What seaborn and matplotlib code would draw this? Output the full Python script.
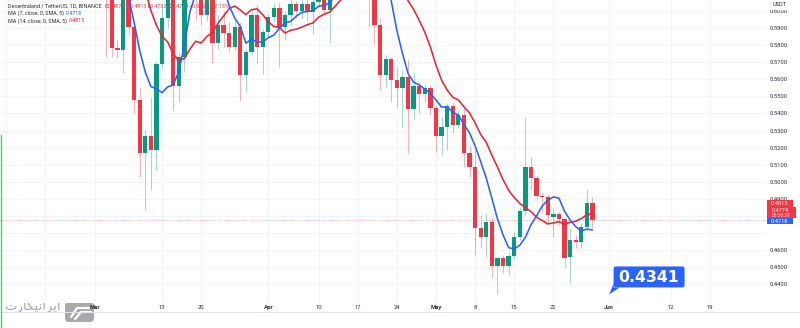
import numpy as np
import pandas as pd
import matplotlib
matplotlib.use("Agg")
import matplotlib.pyplot as plt
import seaborn as sns
from matplotlib.patches import Rectangle, FancyBboxPatch, Polygon
from matplotlib.lines import Line2D
from matplotlib.transforms import IdentityTransform

# ---------------- data: MANA/USDT daily candles ----------------
start_date = "2023-02-13"
end_date = "2023-05-29"
opens = [0.690, 0.700, 0.720, 0.740, 0.760, 0.730, 0.720, 0.700, 0.710, 0.690,
         0.700, 0.690, 0.680, 0.680, 0.690, 0.686, 0.660, 0.6515,
         0.6325, 0.615, 0.5781, 0.5769, 0.612, 0.5908, 0.5479, 0.5167, 0.5268, 0.5186,
         0.5689, 0.5957, 0.614, 0.5561, 0.5729, 0.635, 0.655, 0.641, 0.5976, 0.6435,
         0.581, 0.5918, 0.5869, 0.5791, 0.5908, 0.5625, 0.5758, 0.5976, 0.5791, 0.5878,
         0.5966, 0.6015, 0.5906, 0.5976, 0.604, 0.600, 0.604, 0.5995, 0.605, 0.609,
         0.6005, 0.616, 0.628, 0.640, 0.652, 0.665, 0.675, 0.655, 0.625, 0.5918,
         0.5625, 0.5717, 0.5596, 0.5547, 0.5612, 0.5424, 0.5559, 0.5512, 0.5547, 0.5430,
         0.5268, 0.5319, 0.5444, 0.5332, 0.5391, 0.5167, 0.5088, 0.4728, 0.4675, 0.4767,
         0.4507, 0.4552, 0.4507, 0.4566, 0.4675, 0.4831, 0.5088, 0.5020, 0.4917, 0.4909,
         0.4796, 0.4810, 0.4781, 0.4562, 0.4660, 0.4646, 0.4737, 0.4878]
highs = [0.712, 0.728, 0.752, 0.775, 0.768, 0.742, 0.726, 0.718, 0.714, 0.705,
         0.703, 0.696, 0.688, 0.696, 0.695, 0.690, 0.668, 0.657,
         0.638, 0.619, 0.583, 0.616, 0.618, 0.593, 0.5557, 0.5303, 0.5498, 0.5703,
         0.6035, 0.620, 0.621, 0.5761, 0.642, 0.668, 0.662, 0.647, 0.650, 0.648,
         0.5977, 0.600, 0.5935, 0.5947, 0.5935, 0.578, 0.601, 0.6035, 0.5895, 0.5985,
         0.6045, 0.605, 0.600, 0.609, 0.606, 0.608, 0.607, 0.610, 0.614, 0.612,
         0.622, 0.632, 0.645, 0.658, 0.672, 0.688, 0.680, 0.660, 0.630, 0.595,
         0.5742, 0.5732, 0.5672, 0.5654, 0.5713, 0.5635, 0.5584, 0.5572, 0.5566, 0.5449,
         0.5381, 0.5461, 0.5469, 0.5420, 0.5432, 0.5215, 0.5186, 0.4806, 0.4816, 0.4796,
         0.4562, 0.4572, 0.4591, 0.4708, 0.4854, 0.5381, 0.5143, 0.5040, 0.4942, 0.4929,
         0.4847, 0.4823, 0.4796, 0.4728, 0.4689, 0.4757, 0.4957, 0.4913]
lows = [0.684, 0.694, 0.715, 0.735, 0.722, 0.712, 0.695, 0.697, 0.685, 0.686,
        0.684, 0.673, 0.672, 0.676, 0.680, 0.655, 0.645, 0.627,
        0.573, 0.5732, 0.5725, 0.5639, 0.586, 0.5403, 0.503, 0.4835, 0.4952, 0.5069,
        0.5666, 0.590, 0.542, 0.5469, 0.5644, 0.628, 0.5947, 0.592, 0.594, 0.5695,
        0.578, 0.5791, 0.576, 0.5771, 0.5473, 0.5527, 0.5742, 0.5695, 0.5631, 0.585,
        0.594, 0.5674, 0.583, 0.592, 0.596, 0.595, 0.594, 0.5866, 0.602, 0.598,
        0.5812, 0.610, 0.622, 0.634, 0.645, 0.658, 0.645, 0.5908, 0.5806, 0.5537,
        0.5555, 0.5469, 0.5440, 0.5322, 0.5167, 0.5362, 0.5401, 0.5469, 0.5391, 0.5176,
        0.5157, 0.5186, 0.5286, 0.5315, 0.5088, 0.5030, 0.4572, 0.4611, 0.4562, 0.4435,
        0.4342, 0.4465, 0.4455, 0.4552, 0.4660, 0.4806, 0.4952, 0.4894, 0.4816, 0.4757,
        0.4679, 0.4747, 0.4503, 0.4410, 0.4611, 0.4611, 0.4714, 0.4732]
closes = [0.700, 0.720, 0.740, 0.760, 0.730, 0.720, 0.700, 0.710, 0.690, 0.700,
          0.690, 0.680, 0.680, 0.690, 0.686, 0.660, 0.6515, 0.6325,
          0.615, 0.5781, 0.5769, 0.612, 0.5908, 0.5479, 0.5167, 0.5268, 0.5186, 0.5689,
          0.5957, 0.614, 0.5561, 0.5729, 0.635, 0.655, 0.641, 0.5976, 0.6435, 0.581,
          0.5918, 0.5869, 0.5791, 0.5908, 0.5625, 0.5758, 0.5976, 0.5791, 0.5878, 0.5966,
          0.6015, 0.5906, 0.5976, 0.604, 0.600, 0.604, 0.5995, 0.605, 0.609, 0.6005,
          0.616, 0.628, 0.640, 0.652, 0.665, 0.675, 0.655, 0.625, 0.5918, 0.5625,
          0.5717, 0.5596, 0.5547, 0.5612, 0.5424, 0.5559, 0.5512, 0.5547, 0.5430, 0.5268,
          0.5319, 0.5444, 0.5332, 0.5391, 0.5167, 0.5088, 0.4728, 0.4675, 0.4767, 0.4507,
          0.4552, 0.4507, 0.4566, 0.4675, 0.4831, 0.5088, 0.5020, 0.4917, 0.4909, 0.4806,
          0.4810, 0.4781, 0.4552, 0.4660, 0.4646, 0.4737, 0.4878, 0.4774]

tick_dates = ["2023-02-13", "2023-02-20", "2023-03-01", "2023-03-13", "2023-03-20",
              "2023-04-01", "2023-04-10", "2023-04-17", "2023-04-24", "2023-05-01",
              "2023-05-08", "2023-05-15", "2023-05-22", "2023-06-01", "2023-06-12",
              "2023-06-19"]
tick_labels = ["", "", "Mar", "13", "20", "Apr", "10", "17", "24", "May",
               "8", "15", "22", "Jun", "12", "19"]
month_labels = {"Mar", "Apr", "May", "Jun"}
price_ticks = [0.44, 0.45, 0.46, 0.47, 0.48, 0.49, 0.50, 0.51, 0.52, 0.53,
               0.54, 0.55, 0.56, 0.57, 0.58, 0.59, 0.60]
hidden_price_labels = [0.47, 0.48]

note_date = "2023-06-01"
note_price = 0.4341

symbol = "Decentraland / TetherUS, 1D, BINANCE"
countdown = "05:56:39"

# ---------------- styling ----------------
UP = "#089981"
DOWN = "#F23645"
MA7_COLOR = "#2962FF"
MA14_COLOR = "#F2222F"
TEXT = "#2a2e39"
GRID = "#f0f3fa"

sns.set_theme(style="white")
plt.rcParams["font.family"] = ["Roboto", "DejaVu Sans"]

W, H = 800, 328
fig = plt.figure(figsize=(W / 100, H / 100), dpi=100)
fig.patch.set_facecolor("white")
pane_bottom = 303
ax = fig.add_axes([0, (H - pane_bottom) / H, 766 / W, pane_bottom / H])
ax.set_facecolor("white")

base = pd.Timestamp("2023-03-01")
dates = pd.date_range(start_date, end_date, freq="D")
df = pd.DataFrame({"date": dates, "open": opens, "high": highs,
                   "low": lows, "close": closes})
df["day"] = (df["date"] - base).dt.days
df["ma7"] = df["close"].rolling(7).mean()
df["ma14"] = df["close"].rolling(14).mean()
rising = df["close"] >= df["open"]
colors = np.where(rising, UP, DOWN)

# wicks
ax.vlines(df["day"], df["low"], df["high"], colors=colors, lw=0.75,
          alpha=0.38, zorder=2)
# bodies
body_lo = df[["open", "close"]].min(axis=1)
body_h = (df["open"] - df["close"]).abs().clip(lower=0.0007)
ax.bar(df["day"], body_h, bottom=body_lo, width=0.77, color=colors,
       linewidth=0, zorder=3)

# moving averages
sns.lineplot(data=df, x="day", y="ma14", ax=ax, color=MA14_COLOR, lw=1.15,
             zorder=5)
sns.lineplot(data=df, x="day", y="ma7", ax=ax, color=MA7_COLOR, lw=1.15,
             zorder=5)

last_close = closes[-1]
ax.axhline(last_close, color=DOWN, lw=0.6, ls=(0, (1, 1.6)), alpha=0.55,
           zorder=1.5)

ax.set_xlim(-16.995, 120.04)
ax.set_ylim(0.42909, 0.60638)
for s in ax.spines.values():
    s.set_visible(False)

tick_days = [(pd.Timestamp(t) - base).days for t in tick_dates]
ax.set_xticks(tick_days)
ax.set_xticklabels(tick_labels)
for lab in ax.get_xticklabels():
    if lab.get_text() in month_labels:
        lab.set_fontweight("bold")
ax.set_yticks(price_ticks)
ax.set_yticklabels(["" if any(abs(p - q) < 1e-9 for q in hidden_price_labels)
                    else f"{p:.4f}" for p in price_ticks])
ax.yaxis.tick_right()
ax.tick_params(axis="x", length=0, pad=1.2, labelsize=4.2, labelcolor=TEXT)
ax.tick_params(axis="y", length=0, pad=2.9, labelsize=4.2, labelcolor=TEXT)
ax.grid(True, color=GRID, lw=0.6)
ax.set_axisbelow(True)
ax.set_xlabel("")
ax.set_ylabel("")

# ---------------- legend rows (top-left) ----------------
renderer = fig.canvas.get_renderer()


def text_row(y_px, pieces, x_px=8.3, size=3.9):
    x = x_px
    for s, c in pieces:
        t = ax.text(x / W, 1 - y_px / H, s, color=c, fontsize=size,
                    ha="left", va="center", transform=fig.transFigure,
                    zorder=1)
        x += t.get_window_extent(renderer=renderer).width


o, h, l, c = opens[-1], highs[-1], lows[-1], closes[-1]
chg = c - o
pct = chg / o * 100
text_row(6.2, [(symbol + "  ", TEXT), ("O", TEXT), (f"{o:.4f} ", DOWN),
               ("H", TEXT), (f"{h:.4f} ", DOWN), ("L", TEXT),
               (f"{l:.4f} ", DOWN), ("C", TEXT), (f"{c:.4f} ", DOWN),
               (f"\u2212{abs(chg):.4f} (\u2212{abs(pct):.2f}%)", DOWN)])
ma7_last = df["ma7"].iloc[-1]
ma14_last = df["ma14"].iloc[-1]
text_row(13.6, [("MA (7, close, 0, SMA, 5) ", TEXT), (f"{ma7_last:.4f}", MA7_COLOR)])
text_row(21.0, [("MA (14, close, 0, SMA, 5) ", TEXT), (f"{ma14_last:.4f}", MA14_COLOR)])

ident = IdentityTransform()


def rect_px(x0, y0, x1, y1, color, z=4):
    fig.add_artist(Rectangle((x0, H - y1), x1 - x0, y1 - y0, color=color,
                             transform=ident, zorder=z, lw=0))


def label_px(x, y, s, color="white", size=4.1, weight="normal", family=None,
             ha="center", alpha=1.0, z=6):
    kw = {}
    if family is not None:
        kw["family"] = family
    fig.text(x / W, 1 - y / H, s, color=color, fontsize=size, weight=weight,
             ha=ha, va="center", zorder=z, alpha=alpha, **kw)


# currency label on top of the price scale
rect_px(766, 0, 800, 9.6, "white", z=3)
label_px(779.5, 4.5, "USDT", color=TEXT, size=4.1)

# price scale markers
rect_px(766.5, 200.3, 793.2, 206.8, DOWN)
label_px(779.8, 203.6, f"{ma14_last:.4f}")
rect_px(766.5, 207.2, 796.0, 218.0, DOWN)
label_px(779.8, 210.0, f"{last_close:.4f}", size=4.0)
label_px(781.0, 215.6, countdown, size=3.5, alpha=0.8)
rect_px(766.5, 218.3, 793.2, 224.3, MA7_COLOR)
label_px(779.8, 221.3, f"{ma7_last:.4f}")

# price note callout
note_day = (pd.Timestamp(note_date) - base).days
dx, dy = ax.transData.transform((note_day, note_price))
px_, py_ = dx, H - dy
left, right = px_ + 4.3, px_ + 75.3
top, bottom = py_ - 28.0, py_ - 7.0
fig.add_artist(FancyBboxPatch((left, H - bottom), right - left, bottom - top,
                              boxstyle="round,pad=0,rounding_size=2.2",
                              color=MA7_COLOR, transform=ident, zorder=5, lw=0))
fig.add_artist(Polygon([(px_, H - py_), (left, H - (bottom - 4)),
                        (left, H - bottom), (left + 6, H - bottom)],
                       closed=True, color=MA7_COLOR, transform=ident, zorder=5,
                       lw=0))
label_px((left + right) / 2, (top + bottom) / 2 + 0.3, f"{note_price:.4f}",
         size=11.3, weight="bold", family=["DejaVu Sans"])

# bottom border of the time scale
fig.add_artist(Line2D([0, W], [H - 312, H - 312], color="#e0e3eb", lw=0.7,
                      transform=ident, zorder=2))
# left edge accent
fig.add_artist(Line2D([0.6, 0.6], [0, H - 135], color="#3fd46a", lw=1.0,
                      transform=ident, zorder=2))

# site watermark, kept beneath the time-scale labels
wm = "\uFE95\uFEAD\uFE8E\uFB91\uFBFF\uFEE7\uFE8D\uFEAE\uFBFE\uFE8D"
label_px(4.5, 306.5, wm, color="#a6a6a6", size=9.5, ha="left",
         family=["DejaVu Sans"], z=-2)
fig.add_artist(FancyBboxPatch((65, H - 322), 29, 20,
                              boxstyle="round,pad=0,rounding_size=4",
                              color="#a9a9a9", transform=ident, zorder=-2,
                              lw=0))
fig.add_artist(Line2D([71, 77, 89], [H - 317, H - 308, H - 308], color="white",
                      lw=1.6, transform=ident, zorder=-1,
                      solid_capstyle="round"))
fig.add_artist(Line2D([75, 81, 91], [H - 319, H - 312, H - 312], color="white",
                      lw=1.6, transform=ident, zorder=-1,
                      solid_capstyle="round"))

fig.savefig("out.png", dpi=100, facecolor="white")
